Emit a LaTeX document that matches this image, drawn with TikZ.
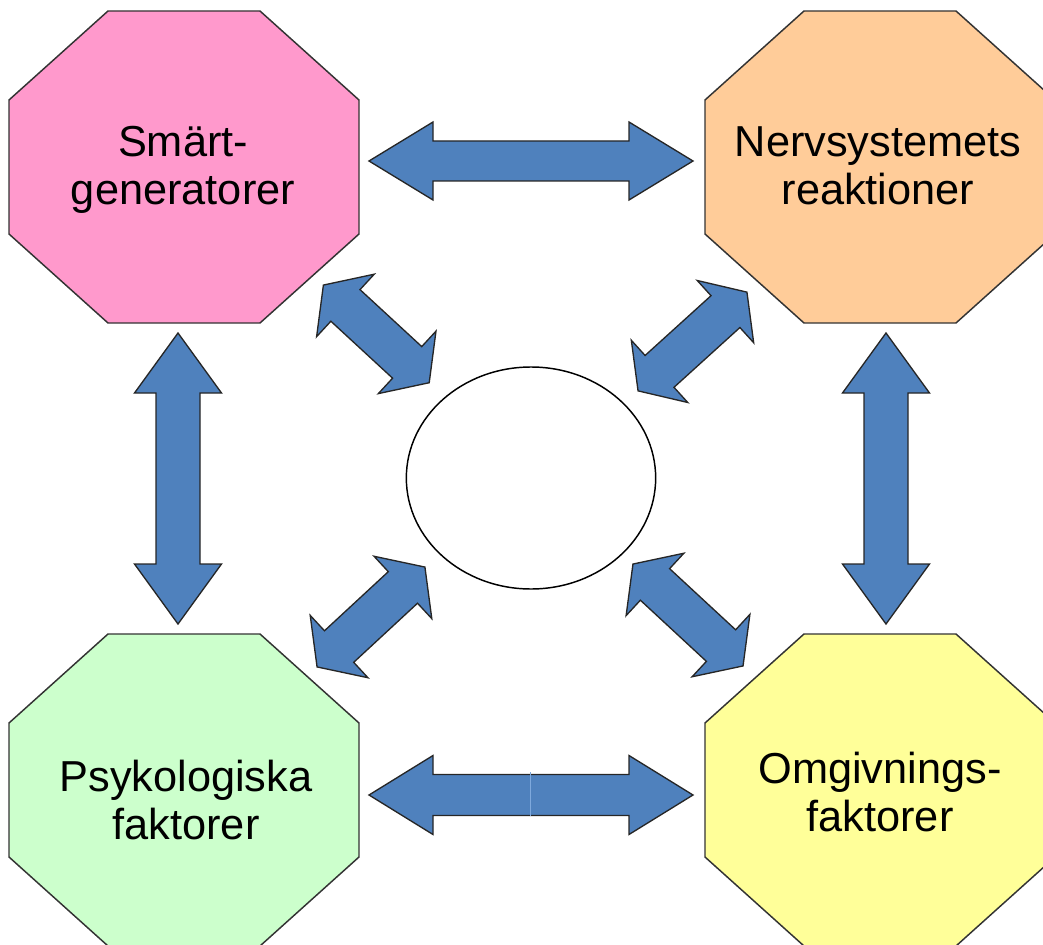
\documentclass[tikz,border=0pt]{standalone}
\usepackage{fontspec}
\setmainfont{Liberation Sans}
\usetikzlibrary{shapes.geometric}

\definecolor{pinkbox}{HTML}{FF99CC}
\definecolor{orangebox}{HTML}{FFCC99}
\definecolor{greenbox}{HTML}{CCFFCC}
\definecolor{yellowbox}{HTML}{FFFF99}
\definecolor{arrowblue}{HTML}{4F81BD}
\definecolor{seamblue}{HTML}{7FA9DC}

\tikzset{
  octa/.style={rectangle,minimum width=264pt,minimum height=235.5pt,inner sep=0pt,
    path picture={\draw[shift={(path picture bounding box.center)},fill=#1,draw=black!80,line width=1.1pt]
      (-76,-156) -- (76,-156) -- (175,-67) -- (175,67) -- (76,156) -- (-76,156) -- (-175,67) -- (-175,-67) -- cycle;}},
  boxtext/.style={align=center,font=\fontsize{32.5}{36}\selectfont},
  pics/dblarrow/.style args={#1/#2/#3/#4}{code={
    \draw[fill=arrowblue,draw=black!85,line width=1pt]
      (-#1/2,0) -- (-#1/2+#2,#3/2) -- (-#1/2+#2,#4/2) -- (#1/2-#2,#4/2) -- (#1/2-#2,#3/2) -- (#1/2,0)
      -- (#1/2-#2,-#3/2) -- (#1/2-#2,-#4/2) -- (-#1/2+#2,-#4/2) -- (-#1/2+#2,-#3/2) -- cycle;
  }}
}

\begin{document}
\begin{tikzpicture}[x=0.75pt,y=-0.75pt]
\useasboundingbox (0,0) rectangle (1043,945);

% Factor boxes
\node[octa=pinkbox] (sg) at (184,167) {};
\node[octa=orangebox] (nr) at (880,167) {};
\node[octa=greenbox] (pf) at (184,790) {};
\node[octa=yellowbox] (of) at (880,790) {};

% Labels
\node[boxtext] (sglabel) at (183,170) {Smärt-\\generatorer};
\node[boxtext] (nrlabel) at (878,166) {Nervsystemets\\reaktioner};
\node[boxtext] (pflabel) at (186,800) {Psykologiska\\faktorer};
\node[boxtext] (oflabel) at (880,792) {Omgivnings-\\faktorer};

% Centre
\node[ellipse,draw,line width=1.1pt,minimum width=187pt,minimum height=166.5pt] (mid) at (531,478) {};

% Arrows between the boxes
\pic at (531,161) {dblarrow=324/64/78/40};
\pic at (531,795) {dblarrow=324/64/79/41};
\pic[rotate=90] at (178,478.5) {dblarrow=291/60/87/44};
\pic[rotate=90] at (886,478.5) {dblarrow=291/60/87/44};
\draw[seamblue,line width=0.6pt] (530,772) -- (530,816);

% Arrows towards the centre
\pic[rotate=-42.7] at (376.3,333.9) {dblarrow=144/30/85/43};
\pic[rotate=42.2] at (692.5,341.5) {dblarrow=147/29/84/43};
\pic[rotate=42.8] at (371,617) {dblarrow=147/30/85/43};
\pic[rotate=-42.8] at (688,615) {dblarrow=150/30/85/43};

\end{tikzpicture}
\end{document}
